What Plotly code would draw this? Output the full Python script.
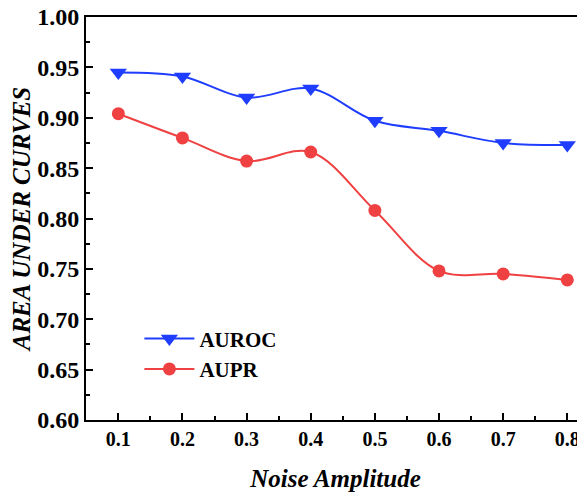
import plotly.graph_objects as go

noise = [0.1, 0.2, 0.3, 0.4, 0.5, 0.6, 0.7, 0.8]
auroc = [0.945, 0.941, 0.920, 0.929, 0.897, 0.887, 0.875, 0.873]
aupr = [0.904, 0.880, 0.857, 0.866, 0.808, 0.748, 0.745, 0.739]
x_ticks = [0.1, 0.2, 0.3, 0.4, 0.5, 0.6, 0.7, 0.8]
y_ticks = [0.60, 0.65, 0.70, 0.75, 0.80, 0.85, 0.90, 0.95, 1.00]

BLUE = "#1F3DFF"
RED = "#EF4142"
FONT = "Liberation Serif"

fig = go.Figure()
fig.add_trace(go.Scatter(
    x=noise, y=auroc, name="AUROC", mode="lines+markers",
    line=dict(color=BLUE, width=2, shape="spline"),
    marker=dict(symbol="triangle-down", size=15, color=BLUE),
))
fig.add_trace(go.Scatter(
    x=noise, y=aupr, name="AUPR", mode="lines+markers",
    line=dict(color=RED, width=2, shape="spline"),
    marker=dict(symbol="circle", size=13, color=RED),
))

# page body has an 8px default margin; compensate so the plot area lands at 86..585 x 17..420
fig.update_layout(
    width=585, height=494,
    margin=dict(l=78, r=8, t=9, b=82),
    paper_bgcolor="white", plot_bgcolor="white",
    font=dict(family=FONT, color="black"),
    showlegend=True,
    legend=dict(
        x=0.107, y=0.252, xanchor="left", yanchor="top",
        bgcolor="rgba(0,0,0,0)",
        font=dict(family=FONT, size=21, color="black", weight="bold"),
        itemwidth=50, tracegroupgap=0,
    ),
)
fig.update_xaxes(
    range=[0.0496, 0.8276], automargin=False, ticklabeloverflow="allow",
    tickvals=x_ticks, ticktext=[f"{v:.1f}" for v in x_ticks],
    showgrid=False, zeroline=False,
    showline=True, linecolor="black", linewidth=2, mirror=True,
    ticks="inside", ticklen=7, tickwidth=1.5, tickcolor="black",
    minor=dict(ticks="inside", ticklen=4, tickwidth=1.5, dtick=0.05, tick0=0.05, tickcolor="black", showgrid=False),
    tickfont=dict(family=FONT, size=20, color="black", weight="bold"),
    title=dict(text="<i>Noise Amplitude</i>", standoff=20,
               font=dict(family=FONT, size=25, color="black", weight="bold")),
)
fig.update_yaxes(
    range=[0.60, 1.00], automargin=False, ticklabeloverflow="allow",
    tickvals=y_ticks, ticktext=[f"{v:.2f}" for v in y_ticks],
    showgrid=False, zeroline=False,
    showline=True, linecolor="black", linewidth=2, mirror=False,
    ticks="inside", ticklen=7, tickwidth=1.5, tickcolor="black",
    minor=dict(ticks="inside", ticklen=4, tickwidth=1.5, dtick=0.025, tick0=0.6, tickcolor="black", showgrid=False),
    tickfont=dict(family=FONT, size=24, color="black", weight="bold"),
    title=dict(text="<i>AREA UNDER CURVES</i>", standoff=5,
               font=dict(family=FONT, size=25, color="black", weight="bold")),
)

fig.write_html("out.html")
